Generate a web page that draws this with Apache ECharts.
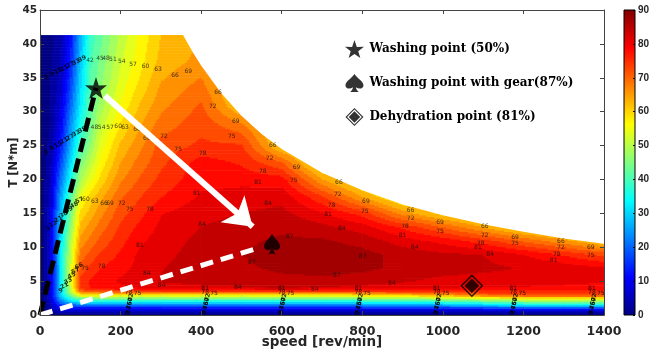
<!DOCTYPE html>
<html>
<head>
<meta charset="utf-8">
<title>Efficiency map</title>
<script src="https://cdn.jsdelivr.net/npm/echarts@6.0.0/dist/echarts.min.js"></script>
<style>
  html, body { margin: 0; padding: 0; background: #fff; }
  #chart { width: 650px; height: 358px; }
</style>
</head>
<body>
<div id="chart"></div>
<script>
// measured map: speed columns, torque rows
var speeds = [0, 25, 50, 75, 100, 125, 150, 200, 250, 300, 400, 500, 600, 700, 800, 900, 1000, 1100, 1200, 1300, 1400];
var torques = [0, 0.5, 1, 1.5, 2, 2.5, 3, 3.5, 4, 5, 7, 9, 11, 13, 15, 17.5, 20, 22.5, 25, 28, 31, 34, 37.5, 41.3];

// efficiency [%], one row per torque (bottom to top)
var efficiency = [
  [0, 0, 0, 0, 0, 0, 0, 0, 0, 0, 0, 0, 0, 0, 0, 0, 0, 0, 0, 0, 0],
  [0, 3, 5, 5, 5, 5, 5, 5, 5, 5, 5, 5, 5, 5, 5, 5, 5, 6, 6, 6, 6],
  [0, 5, 10, 11, 11, 11, 11, 11, 11, 11, 11, 11, 11, 11, 12, 12, 13, 14, 16, 16, 16],
  [0, 6, 16, 20, 22, 22, 22, 22, 22, 22, 22, 22, 22, 22, 24, 25, 27, 30, 33, 33, 33],
  [0, 7, 22, 30, 34, 34, 34, 34, 34, 34, 34, 34, 34, 34, 36, 37, 39, 42, 45, 45, 45],
  [0, 8, 27, 38, 45, 45, 45, 45, 45, 45, 45, 45, 45, 45, 48, 49, 52, 55, 58, 58, 58],
  [0, 8, 30, 45, 57, 57, 57, 57, 57, 57, 57, 57, 57, 57, 60, 62, 65, 70, 73, 73, 73],
  [0, 8, 32, 50, 70, 72, 73, 73, 73, 73, 73, 73, 73, 73, 75, 76, 76, 77, 77, 77, 77],
  [0, 8, 32, 52, 75, 78, 79, 80, 81, 82, 83, 83.5, 84, 83.5, 83, 82, 81, 80.5, 80.5, 80, 79],
  [0, 8, 32, 53, 76, 78.5, 79.5, 81.5, 83, 84.2, 85, 85.5, 86, 86, 85.3, 84.3, 83, 82.5, 82.5, 82, 81.5],
  [0, 8, 32, 53, 73, 76, 78, 80, 82, 83.8, 85.8, 86.5, 87.6, 88.3, 87.8, 86.3, 85.5, 84.8, 83.8, 83, 81.5],
  [0, 8, 33, 52, 70, 73, 75.5, 78.5, 81.8, 83, 85.5, 87, 88, 88.5, 88, 86, 84.6, 84, 81, 77.5, 74],
  [0, 8, 32, 50, 67, 70, 73, 77, 80.5, 82.5, 84.8, 86.5, 87.5, 87.5, 86, 82.5, 80, 76.5, 71.5, 67, 62],
  [0, 8, 31, 47, 64, 67.5, 70.5, 75.5, 79, 81.7, 84.1, 85.3, 86.5, 85, 82.5, 77.5, 72, 66, 60, 58, 58],
  [0, 8, 29, 45, 61, 64.5, 68, 74, 77.2, 80.9, 83, 84.1, 85, 81.5, 77, 68, 62, 58, 58, 58, 58],
  [0, 7, 26, 42, 56, 61.5, 65, 71.5, 75, 77.8, 81.5, 82.2, 83, 75.5, 66, 58, 58, 58, 58, 58, 58],
  [0, 6, 22, 36, 50, 56, 61, 68.5, 72.6, 76, 80, 80.2, 79.5, 66.5, 58, 58, 58, 58, 58, 58, 58],
  [0, 5, 18, 32, 46, 52, 58, 66, 70.5, 74.2, 79.5, 77.6, 72.5, 58, 58, 58, 58, 58, 58, 58, 58],
  [0, 4, 14, 28, 41, 48, 55.5, 63.7, 68.5, 73.3, 75.7, 75.5, 62, 58, 58, 58, 58, 58, 58, 58, 58],
  [0, 3, 11, 25, 37, 45, 52.5, 60.3, 66, 70.5, 74, 70, 60, 58, 58, 58, 58, 58, 58, 58, 58],
  [0, 3, 9, 21, 34, 43, 49.5, 57.5, 63.5, 68, 72.5, 62, 60, 58, 58, 58, 58, 58, 58, 58, 58],
  [0, 3, 7, 18, 32, 42, 47.5, 55.5, 61, 66.3, 70, 60, 60, 58, 58, 58, 58, 58, 58, 58, 58],
  [0, 2.5, 6, 15, 30, 41.5, 45.8, 53.6, 59, 64, 67, 60, 60, 58, 58, 58, 58, 58, 58, 58, 58],
  [0, 2, 5, 13, 28, 40, 44, 52, 58, 63, 66, 60, 60, 58, 58, 58, 58, 58, 58, 58, 58]
];

// max torque curve
var envelopeSpeed = [0, 355, 380, 400, 450, 500, 550, 600, 700, 800, 900, 1000, 1100, 1200, 1300, 1400];
var envelopeTorque = [41.3, 41.3, 38.7, 36.8, 32.7, 29.4, 26.7, 24.5, 21.0, 18.4, 16.3, 14.7, 13.4, 12.3, 11.3, 10.5];

var washingPoint = [139, 33.5];
var gearPoint = [576, 10.5];
var dehydrationPoint = [1072, 4.3];

// contour labels [speed, torque, text]
var contourLabels = [
  [241, 27.4, '66'], [265, 26.1, '69'], [308, 26.4, '72'], [343, 24.5, '75'], [404, 23.9, '78'],
  [442, 32.9, '66'], [368, 35.9, '69'], [429, 30.7, '72'], [486, 28.5, '69'], [476, 26.3, '75'],
  [578, 25.0, '66'], [570, 23.1, '72'], [553, 21.2, '78'], [541, 19.6, '81'], [566, 16.4, '84'],
  [637, 21.7, '69'], [630, 19.8, '75'],
  [742, 19.5, '66'], [739, 17.8, '72'], [724, 16.2, '78'], [715, 14.9, '81'], [749, 12.7, '84'],
  [809, 16.8, '69'], [806, 15.3, '75'],
  [920, 15.5, '66'], [920, 14.2, '72'], [906, 13.0, '78'], [900, 11.8, '81'], [930, 9.9, '84'],
  [993, 13.6, '69'], [993, 12.4, '75'],
  [1104, 13.0, '66'], [1104, 11.8, '72'], [1094, 10.6, '78'], [1087, 10.0, '81'], [1117, 9.0, '84'],
  [1179, 11.5, '69'], [1179, 10.5, '75'],
  [1293, 10.9, '66'], [1293, 9.9, '72'], [1283, 9.0, '78'], [1275, 8.1, '81'],
  [1367, 9.9, '69'], [1367, 8.8, '75'],
  [620, 11.6, '87'], [801, 8.7, '87'], [737, 5.9, '87'], [526, 7.7, '87'],
  [302, 4.3, '84'], [491, 4.0, '84'], [682, 3.8, '84'], [873, 4.7, '84'], [402, 13.4, '84'],
  [389, 18.0, '81'], [248, 10.3, '81'], [265, 6.2, '84'],
  [112, 6.8, '75'], [153, 7.1, '78'],
  [114, 17.0, '60'], [136, 16.8, '63'], [159, 16.5, '66'], [174, 16.4, '69'], [203, 16.4, '72'], [223, 15.6, '75'], [273, 15.6, '78'],
  [124, 37.6, '42'], [149, 37.8, '45'], [164, 37.8, '48'], [181, 37.7, '51'], [203, 37.4, '54'], [231, 37.0, '57'], [262, 36.6, '60'], [293, 36.2, '63'], [335, 35.4, '66'],
  [135, 27.7, '48'], [153, 27.6, '54'], [174, 27.6, '57'], [194, 27.8, '60'], [211, 27.6, '63']
];

// crowded low levels: chains on the left, blobs near zero torque
var chainLabels = [
  [15, 35.1, '3'], [30, 35.5, '9'], [45, 36.0, '15'], [60, 36.4, '21'], [75, 36.9, '27'], [90, 37.3, '33'], [105, 37.8, '39'],
  [15, 24.0, '3'], [30, 24.6, '9'], [45, 25.1, '15'], [60, 25.7, '21'], [75, 26.2, '27'], [90, 26.8, '33'], [105, 27.3, '39'],
  [20, 12.7, '3'], [33, 13.4, '12'], [46, 14.1, '21'], [59, 14.8, '30'], [72, 15.5, '39'], [85, 16.2, '48'], [98, 16.9, '57'],
  [52, 3.6, '9'], [61, 4.3, '21'], [70, 5.0, '33'], [79, 5.8, '45'], [88, 6.5, '57'], [97, 7.2, '66']
];
var blobSpeeds = [220, 410, 600, 790, 985, 1175, 1370];
var blobLevels = [[0, 3.9, '81', 0], [0, 3.35, '78', 0], [22, 3.2, '75', 0], [6, 2.6, '72', 80],
  [4, 2.0, '60', 80], [2, 1.4, '45', 80], [0, 0.8, '27', 80], [-2, 0.3, '9', 80]];

var xTicks = { min: 0, max: 1400, interval: 200 };
var yTicks = { min: 0, max: 45, interval: 5 };
var barTicks = { min: 0, max: 90, interval: 10 };

// jet colormap
var jetStops = ['#000080', '#0000ff', '#00ffff', '#ffff00', '#ff0000', '#800000'];
var jetPos = [0, 0.125, 0.375, 0.625, 0.875, 1];

function jet(x) {
  var r = Math.min(1, Math.max(0, 1.5 - Math.abs(4 * x - 3)));
  var g = Math.min(1, Math.max(0, 1.5 - Math.abs(4 * x - 2)));
  var b = Math.min(1, Math.max(0, 1.5 - Math.abs(4 * x - 1)));
  return 'rgb(' + Math.round(r * 255) + ',' + Math.round(g * 255) + ',' + Math.round(b * 255) + ')';
}

var step = 3;
var levelColors = [];
for (var k = 0; k < 30; k++) levelColors.push(jet(k * step / 90));

var cells = [];
for (var j = 0; j < torques.length - 1; j++) {
  for (var i = 0; i < speeds.length - 1; i++) {
    cells.push([speeds[i], torques[j], speeds[i + 1], torques[j + 1],
      efficiency[j][i], efficiency[j][i + 1], efficiency[j + 1][i], efficiency[j + 1][i + 1]]);
  }
}

var envelope = envelopeSpeed.map(function (s, i) { return [s, envelopeTorque[i]]; });

var labelData = contourLabels.map(function (d) {
  return { value: [d[0], d[1]], label: { formatter: d[2] } };
});
chainLabels.forEach(function (d) {
  labelData.push({ value: [d[0], d[1]], label: { formatter: d[2], rotate: 28, color: '#000', fontWeight: 'bold' } });
});
blobSpeeds.forEach(function (s) {
  blobLevels.forEach(function (b) {
    labelData.push({ value: [s + b[0], b[1]], label: { formatter: b[2], rotate: b[3], color: '#000', fontWeight: b[3] ? 'bold' : 'normal' } });
  });
});

function along(a, b, f) {
  return [a[0] + (b[0] - a[0]) * f, a[1] + (b[1] - a[1]) * f];
}

var starPath = 'path://M50,0 L61.8,35.4 L97.6,34.5 L69,56.4 L79.4,90.5 L50,70 L20.6,90.5 L31,56.4 L2.4,34.5 L38.2,35.4 Z';
var spadePath = 'path://M50,0 C35,25 0,40 0,62 C0,80 22,88 42,74 C40,86 34,95 26,100 L74,100 C66,95 60,86 58,74 C78,88 100,80 100,62 C100,40 65,25 50,0 Z';
var diamondPath = 'path://M50,0 L100,50 L50,100 L0,50 Z M50,9 L9,50 L50,91 L91,50 Z M50,18 L82,50 L50,82 L18,50 Z';

function renderCell(params, api) {
  var s0 = api.value(0), t0 = api.value(1), s1 = api.value(2), t1 = api.value(3);
  var v00 = api.value(4), v10 = api.value(5), v01 = api.value(6), v11 = api.value(7);
  var p0 = api.coord([s0, t0]);
  var p1 = api.coord([s1, t1]);
  var w = p1[0] - p0[0], h = p0[1] - p1[1];
  var nx = Math.max(1, Math.round(w / 1.5));
  var ny = Math.max(1, Math.round(h / 1.5));
  var children = [];
  for (var r = 0; r < ny; r++) {
    var fy = (r + 0.5) / ny;
    var yTop = p0[1] - (r + 1) * h / ny;
    var runStart = 0, runBand = null;
    for (var c = 0; c <= nx; c++) {
      var band = null;
      if (c < nx) {
        var fx = (c + 0.5) / nx;
        var v = v00 * (1 - fx) * (1 - fy) + v10 * fx * (1 - fy) + v01 * (1 - fx) * fy + v11 * fx * fy;
        band = Math.max(0, Math.min(29, Math.floor(v / step)));
      }
      if (band !== runBand) {
        if (runBand !== null) {
          children.push({
            type: 'rect',
            shape: { x: p0[0] + runStart * w / nx, y: yTop, width: (c - runStart) * w / nx + 0.6, height: h / ny + 0.6 },
            style: { fill: levelColors[runBand] }
          });
        }
        runStart = c;
        runBand = band;
      }
    }
  }
  return { type: 'group', children: children };
}

function renderBar(params, api) {
  var a = api.coord([0, barTicks.min]);
  var b = api.coord([1, barTicks.max]);
  var stops = jetStops.map(function (c, i) { return { offset: jetPos[i], color: c }; });
  return {
    type: 'rect',
    shape: { x: a[0], y: b[1], width: b[0] - a[0], height: a[1] - b[1] },
    style: { fill: new echarts.graphic.LinearGradient(0, 1, 0, 0, stops), stroke: '#000', lineWidth: 1 }
  };
}

var axisFont = 'DejaVu Sans';
var axisColor = '#262626';
var plain = function (v) { return String(v); };

var option = {
  backgroundColor: '#fff',
  animation: false,
  grid: [
    { left: 40, top: 10, width: 564, height: 305, outerBoundsMode: 'none' },
    { left: 624, top: 10, width: 11, height: 305, outerBoundsMode: 'none' }
  ],
  legend: {
    left: 340, top: 35, orient: 'vertical',
    itemWidth: 20, itemHeight: 18, itemGap: 16,
    selectedMode: false,
    textStyle: { fontFamily: 'DejaVu Serif', fontWeight: 'bold', fontSize: 12, color: '#000' },
    data: [
      { name: 'Washing point (50%)', icon: starPath },
      { name: 'Washing point with gear(87%)', icon: spadePath },
      { name: 'Dehydration point (81%)', icon: diamondPath }
    ]
  },
  xAxis: [
    {
      type: 'value', gridIndex: 0, min: xTicks.min, max: xTicks.max, interval: xTicks.interval, z: 10,
      name: 'speed [rev/min]', nameLocation: 'middle', nameGap: 20, nameMoveOverlap: false,
      nameTextStyle: { fontFamily: axisFont, fontWeight: 'bold', fontSize: 13.5, color: axisColor },
      axisLine: { onZero: false, lineStyle: { color: '#444', width: 1 } },
      axisTick: { inside: true, length: 4, lineStyle: { color: '#444' } },
      axisLabel: { fontFamily: axisFont, fontWeight: 'bold', fontSize: 12.5, color: axisColor, margin: 10, formatter: plain },
      splitLine: { show: false }
    },
    {
      type: 'value', gridIndex: 0, position: 'top', min: xTicks.min, max: xTicks.max, interval: xTicks.interval, z: 10,
      axisLine: { onZero: false, lineStyle: { color: '#444', width: 1 } },
      axisTick: { inside: true, length: 4, lineStyle: { color: '#444' } },
      axisLabel: { show: false }, splitLine: { show: false }
    },
    { type: 'value', gridIndex: 1, min: 0, max: 1, show: false }
  ],
  yAxis: [
    {
      type: 'value', gridIndex: 0, min: yTicks.min, max: yTicks.max, interval: yTicks.interval, z: 10,
      name: 'T [N*m]', nameLocation: 'middle', nameGap: 20, nameMoveOverlap: false,
      nameTextStyle: { fontFamily: axisFont, fontWeight: 'bold', fontSize: 11.5, color: axisColor },
      axisLine: { show: true, onZero: false, lineStyle: { color: '#444', width: 1 } },
      axisTick: { show: true, inside: true, length: 4, lineStyle: { color: '#444' } },
      axisLabel: { fontFamily: axisFont, fontWeight: 'bold', fontSize: 10.5, color: axisColor, margin: 3, formatter: plain },
      splitLine: { show: false }
    },
    {
      type: 'value', gridIndex: 0, position: 'right', min: yTicks.min, max: yTicks.max, interval: yTicks.interval, z: 10,
      axisLine: { show: true, onZero: false, lineStyle: { color: '#444', width: 1 } },
      axisTick: { show: true, inside: true, length: 4, lineStyle: { color: '#444' } },
      axisLabel: { show: false }, splitLine: { show: false }
    },
    {
      type: 'value', gridIndex: 1, position: 'right', min: barTicks.min, max: barTicks.max, interval: barTicks.interval, z: 10,
      axisLine: { show: false, onZero: false },
      axisTick: { show: true, inside: true, length: 2, lineStyle: { color: '#000' } },
      axisLabel: { fontFamily: 'Liberation Sans', fontWeight: 'bold', fontSize: 10, color: axisColor, margin: 3, formatter: plain },
      splitLine: { show: false }
    }
  ],
  series: [
    {
      type: 'custom', xAxisIndex: 0, yAxisIndex: 0, data: cells,
      encode: { x: [0, 2], y: [1, 3] },
      renderItem: renderCell, silent: true, z: 1
    },
    {
      type: 'line', xAxisIndex: 0, yAxisIndex: 0, data: envelope, symbol: 'none',
      lineStyle: { width: 0 }, areaStyle: { color: '#fff', opacity: 1, origin: 'end' },
      silent: true, z: 2
    },
    {
      type: 'scatter', xAxisIndex: 0, yAxisIndex: 0, data: labelData, symbolSize: 1,
      itemStyle: { color: 'rgba(0,0,0,0)' },
      label: { show: true, position: 'inside', fontFamily: 'DejaVu Sans', fontSize: 6, color: '#111' },
      silent: true, z: 3
    },
    {
      type: 'line', xAxisIndex: 0, yAxisIndex: 0, data: [[0, 0], washingPoint], symbol: 'none',
      lineStyle: { color: '#000', width: 5, type: [14, 7] }, silent: true, z: 4
    },
    {
      type: 'line', xAxisIndex: 0, yAxisIndex: 0, data: [[0, 0], along([0, 0], gearPoint, 0.94)], symbol: 'none',
      lineStyle: { color: '#fff', width: 5, type: [13, 8] }, silent: true, z: 4
    },
    {
      type: 'lines', coordinateSystem: 'cartesian2d', xAxisIndex: 0, yAxisIndex: 0,
      data: [{ coords: [along(washingPoint, gearPoint, 0.05), along(washingPoint, gearPoint, 0.89)] }],
      lineStyle: { color: '#fff', width: 6, opacity: 1, curveness: 0 },
      symbol: ['none', 'arrow'], symbolSize: 27, silent: true, z: 5
    },
    {
      name: 'Washing point (50%)', type: 'scatter', xAxisIndex: 0, yAxisIndex: 0,
      symbol: starPath, symbolSize: 22, itemStyle: { color: '#000' }, data: [washingPoint], z: 6
    },
    {
      name: 'Washing point with gear(87%)', type: 'scatter', xAxisIndex: 0, yAxisIndex: 0,
      symbol: spadePath, symbolSize: [16, 20], itemStyle: { color: '#000' }, data: [gearPoint], z: 6
    },
    {
      name: 'Dehydration point (81%)', type: 'scatter', xAxisIndex: 0, yAxisIndex: 0,
      symbol: diamondPath, symbolSize: 23, itemStyle: { color: '#000' }, data: [dehydrationPoint], z: 6
    },
    {
      type: 'custom', xAxisIndex: 2, yAxisIndex: 2, data: [[0, barTicks.min, 1, barTicks.max]],
      encode: { x: [0, 2], y: [1, 3] }, renderItem: renderBar, silent: true, z: 1
    }
  ]
};

var myChart = echarts.init(document.getElementById('chart'), null, { renderer: 'canvas' });
myChart.setOption(option);
</script>
</body>
</html>
